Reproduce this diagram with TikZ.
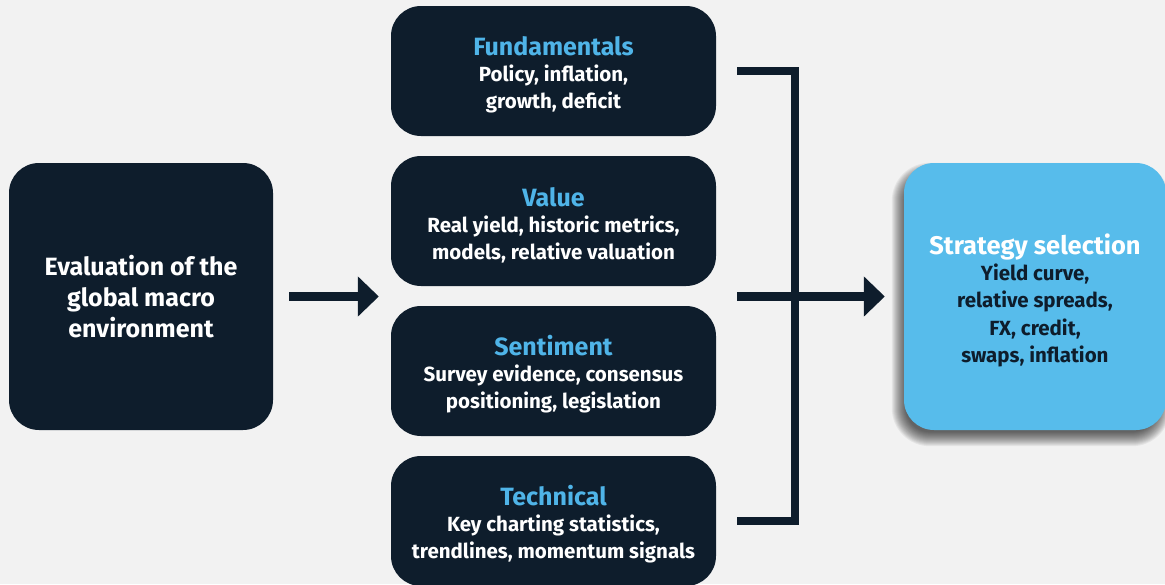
\documentclass[tikz,border=0pt]{standalone}
\usepackage{fontspec}
\setmainfont{Fira Sans}
\usetikzlibrary{arrows.meta,backgrounds}
\definecolor{navy}{HTML}{0E1D2C}
\definecolor{paper}{HTML}{F2F2F2}
\definecolor{sky}{HTML}{57BCEB}
\definecolor{skytext}{HTML}{4FB4E8}
% heading line of a box: size, colour, strut height, text
\newcommand{\headline}[4]{{\fontsize{#1}{27}\selectfont\color{#2}\rule{0pt}{#3}#4}}
\begin{document}
\begin{tikzpicture}[x=1pt,y=-1pt,
  darkbox/.style={fill=navy, rounded corners=30pt, inner sep=0pt, align=center, text=white},
  midbox/.style={darkbox, minimum width=325pt, minimum height=130pt,
    font=\bfseries\fontsize{20.5}{27}\selectfont},
  link/.style={draw=navy, line width=8.5pt},
  arr/.style={link, -{Triangle[length=21pt,width=39pt]}}
]
\useasboundingbox (0,0) rectangle (1165,584);

% input box
\node[darkbox, minimum width=264pt, minimum height=267pt,
  font=\bfseries\fontsize{25}{31}\selectfont] (eval) at (141,296.5)
  {Evaluation of the\\ global macro\\ environment};

% four analysis pillars
\node[midbox] (fund) at (553.5,71)
  {\headline{25}{skytext}{27pt}{Fundamentals}\\[-1pt] Policy, inflation,\\ growth, deficit};
\node[midbox] (val)  at (553.5,221)
  {\headline{25}{skytext}{27pt}{Value}\\[-1pt] Real yield, historic metrics,\\ models, relative valuation};
\node[midbox] (sent) at (553.5,371)
  {\headline{25}{skytext}{27pt}{Sentiment}\\[-1pt] Survey evidence, consensus\\ positioning, legislation};
\node[midbox] (tech) at (553.5,521)
  {\headline{25}{skytext}{27pt}{Technical}\\[-1pt] Key charting statistics,\\ trendlines, momentum signals};

% output box
\node[fill=sky, rounded corners=30pt, inner sep=0pt, align=center, text=navy,
  font=\bfseries\fontsize{20.5}{27.3}\selectfont,
  minimum width=262pt, minimum height=267pt]
  (strat) at (1035,296.5)
  {\headline{25.5}{white}{28.5pt}{Strategy selection}\\[-1pt] Yield curve,\\ relative spreads,\\ FX, credit,\\ swaps, inflation};

% page colour and the soft drop shadow of the output box
\begin{scope}[on background layer]
  \fill[paper] (0,0) rectangle (1165,584);
  \foreach \g in {-6,...,8}
    \fill[black, opacity=0.055, rounded corners=30pt+\g pt]
      ([shift={(-4-\g,8+\g)}]strat.south west) rectangle ([shift={(-4+\g,8-\g)}]strat.north east);
\end{scope}

% connectors
\draw[arr, shorten <=16pt, shorten >=12pt] (eval.east) -- (eval.east -| fund.west);

\coordinate (btop) at ([xshift=21pt]fund.east);
\coordinate (bbot) at ([xshift=21pt]tech.east);
\coordinate (bmid) at ([xshift=21pt]fund.east |- strat.west);
\draw[link, line join=miter] (btop) -- ++(58,0) |- (bbot);
\draw[arr, shorten >=19pt] (bmid) -- (strat.west);
\end{tikzpicture}
\end{document}
